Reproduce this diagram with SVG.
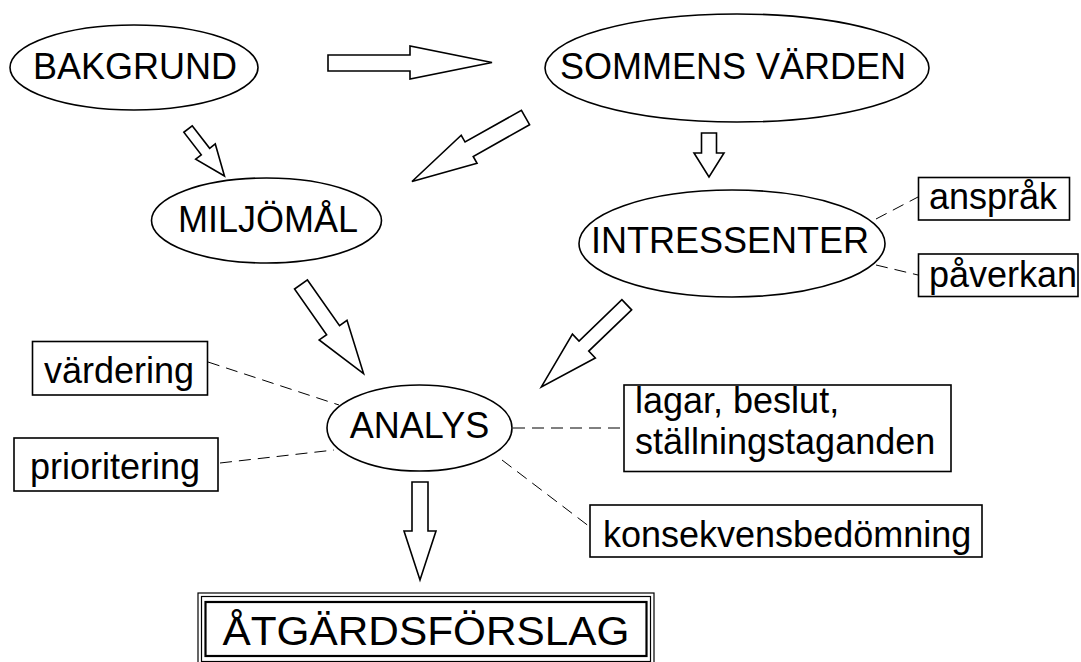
<svg xmlns="http://www.w3.org/2000/svg" width="1081" height="662" viewBox="0 0 1081 662">
<style>
.bg{fill:#fff}
.node{fill:#fff;stroke:#000;stroke-width:1.6}
.t{font-family:"Liberation Sans",Arial,sans-serif;font-size:36px;fill:#000}
.c{text-anchor:middle}
.arrow{fill:#fff;stroke:#000;stroke-width:1.6;stroke-linejoin:miter}
.dash{fill:none;stroke:#000;stroke-width:1;stroke-dasharray:12 7}
</style>
<rect class="bg" x="0" y="0" width="1081" height="662"/>
<g id="connectors">
  <polygon class="arrow" points="328,55 410,55 410,46 492,62.5 410,79 410,71 328,71"/>
  <polygon class="arrow" transform="translate(188,129) rotate(52.2)" points="0,-5.3 28.5,-5.3 28.5,-12.4 59.5,0 28.5,12.4 28.5,5.3 0,5.3"/>
  <polygon class="arrow" transform="translate(525.5,117.5) rotate(150.6)" points="0,-8.3 64.7,-8.3 64.7,-16.1 130.3,0 64.7,16.1 64.7,8.3 0,8.3"/>
  <polygon class="arrow" points="701.5,133 716.5,133 716.5,153 724,153 709,177 694,153 701.5,153"/>
  <polygon class="arrow" transform="translate(301,284.5) rotate(54.9)" points="0,-7.9 55.8,-7.9 55.8,-17 108.8,0 55.8,17 55.8,7.9 0,7.9"/>
  <polygon class="arrow" transform="translate(626.75,304.8) rotate(136.1)" points="0,-7 59.5,-7 59.5,-16.5 118.5,0 59.5,16.5 59.5,7 0,7"/>
  <polygon class="arrow" points="412,482 428,482 428,531 436,531 420,580 404,531 412,531"/>
  <line class="dash" x1="876" y1="219" x2="918" y2="197"/>
  <line class="dash" x1="876" y1="265" x2="918" y2="275"/>
  <line class="dash" x1="208" y1="362" x2="339" y2="405"/>
  <line class="dash" x1="220" y1="463" x2="334" y2="450"/>
  <line class="dash" x1="513" y1="428" x2="624" y2="428"/>
  <line class="dash" x1="502" y1="460" x2="590" y2="527"/>
</g>
<g id="bakgrund">
  <ellipse class="node" cx="134" cy="67.5" rx="124" ry="42.5"/>
  <text class="t c" x="135" y="79">BAKGRUND</text>
</g>
<g id="sommens-varden">
  <ellipse class="node" cx="737" cy="68" rx="192" ry="54"/>
  <text class="t c" x="733" y="79">SOMMENS VÄRDEN</text>
</g>
<g id="miljomal">
  <ellipse class="node" cx="266.5" cy="220.5" rx="115" ry="42.5"/>
  <text class="t c" x="268" y="232">MILJÖMÅL</text>
</g>
<g id="intressenter">
  <ellipse class="node" cx="732" cy="243.5" rx="153" ry="53.5"/>
  <text class="t c" x="730" y="253">INTRESSENTER</text>
</g>
<g id="anssprak">
  <rect class="node" x="918.5" y="177.5" width="151" height="42.5"/>
  <text class="t" x="929" y="209">anspråk</text>
</g>
<g id="paverkan">
  <rect class="node" x="918.5" y="254" width="159.5" height="42.5"/>
  <text class="t" x="929" y="287">påverkan</text>
</g>
<g id="vardering">
  <rect class="node" x="32.5" y="341.5" width="175" height="53.5"/>
  <text class="t" x="44" y="383">värdering</text>
</g>
<g id="prioritering">
  <rect class="node" x="14" y="438" width="204" height="53"/>
  <text class="t" x="30" y="479">prioritering</text>
</g>
<g id="analys">
  <ellipse class="node" cx="419.5" cy="428" rx="92.5" ry="43"/>
  <text class="t c" x="419.5" y="438">ANALYS</text>
</g>
<g id="lagar">
  <rect class="node" x="624" y="385" width="327" height="86.5"/>
  <text class="t" x="635" y="413">lagar, beslut,</text>
  <text class="t" x="635" y="454">ställningstaganden</text>
</g>
<g id="konsekvens">
  <rect class="node" x="590" y="505" width="392" height="52"/>
  <text class="t" x="603" y="547">konsekvensbedömning</text>
</g>
<g id="atgardsforslag">
  <rect x="198" y="593" width="456" height="72" fill="#fff" stroke="#000" stroke-width="1.2"/>
  <rect x="201.5" y="596.5" width="449" height="65" fill="none" stroke="#000" stroke-width="1.2"/>
  <rect x="205.5" y="602" width="441" height="54" fill="none" stroke="#000" stroke-width="2.2"/>
  <text class="t c" x="426" y="645" style="font-size:40px" textLength="407" lengthAdjust="spacingAndGlyphs">ÅTGÄRDSFÖRSLAG</text>
</g>
</svg>
